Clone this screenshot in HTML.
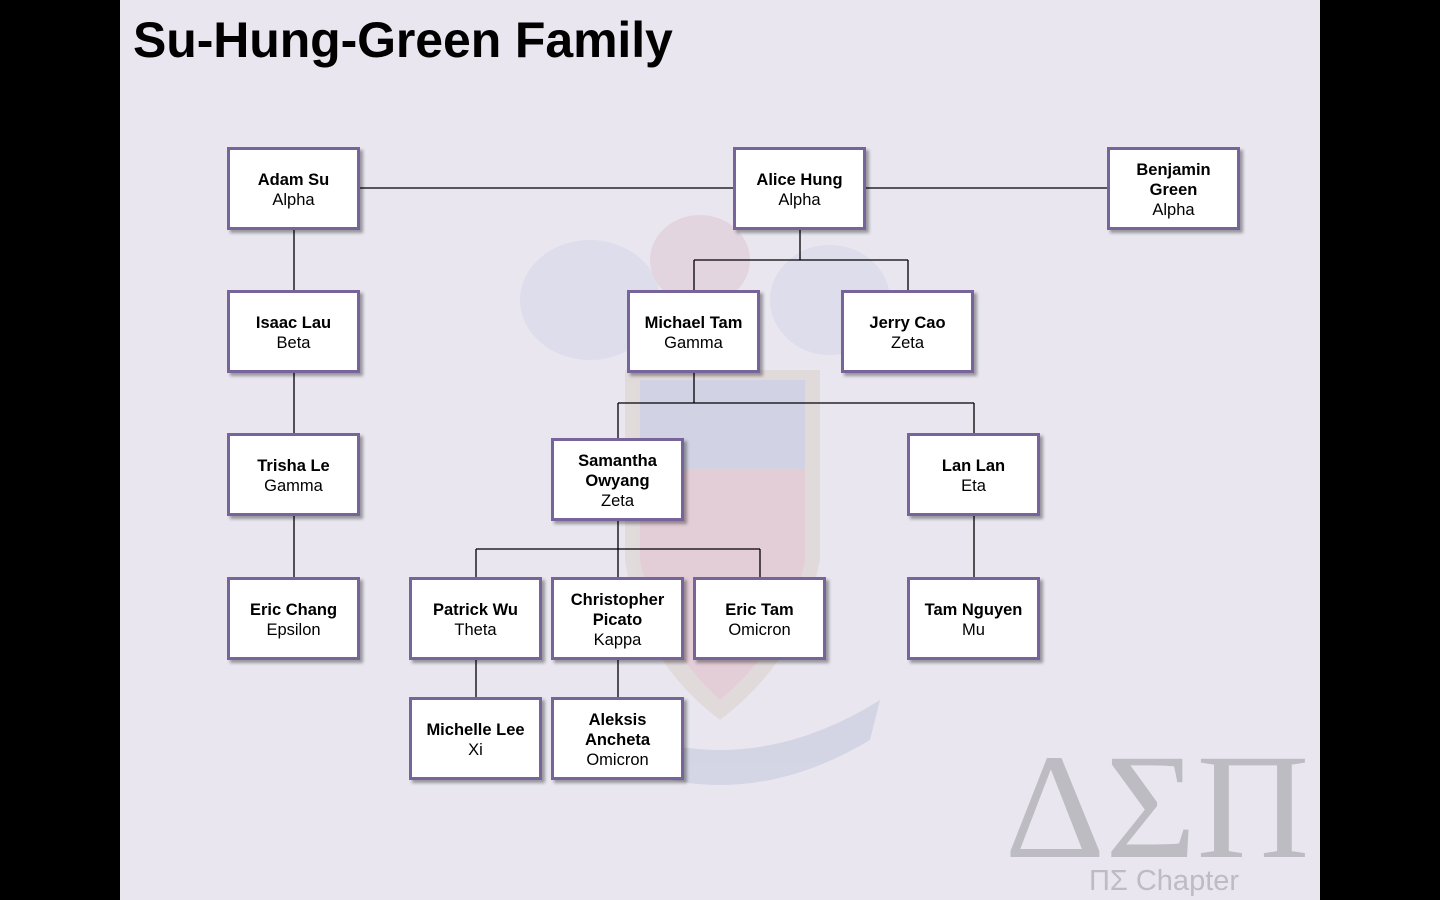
<!DOCTYPE html>
<html><head><meta charset="utf-8"><style>
body{margin:0;width:1440px;height:900px;background:#000;position:relative;overflow:hidden;font-family:"Liberation Sans",Arial,sans-serif}
#s{position:absolute;left:120px;top:0;width:1200px;height:900px;background:#e9e6ef}
h1{position:absolute;left:133px;top:11px;margin:0;font-size:50px;font-weight:bold;color:#000;letter-spacing:-0.1px}
.b{position:absolute;width:127px;height:74px;padding-top:3px;box-sizing:content-box;background:#fff;border:3px solid #76649a;box-shadow:3px 3px 3px rgba(0,0,0,0.35);display:flex;flex-direction:column;justify-content:center;align-items:center;text-align:center;font-size:16.5px;line-height:20px;color:#000}
.b b{font-weight:bold}
svg{position:absolute;left:0;top:0}
</style></head><body>
<div id="s"></div>
<svg width="1440" height="900">
<g opacity="0.12">
<ellipse cx="590" cy="300" rx="70" ry="60" fill="#8aa0d0"/>
<ellipse cx="830" cy="300" rx="60" ry="55" fill="#8aa0d0"/>
<ellipse cx="700" cy="260" rx="50" ry="45" fill="#c06070"/>
<path d="M625 370 L820 370 L820 560 Q800 660 720 720 Q640 660 625 560 Z" fill="#b08a50"/>
<path d="M640 380 L805 380 L805 470 L640 470 Z" fill="#3050a0"/>
<path d="M640 470 L805 470 L805 560 Q790 640 720 700 Q655 640 640 560 Z" fill="#c02030"/>
<path d="M560 700 Q720 800 880 700 L870 740 Q720 830 570 740 Z" fill="#4060a0"/>
</g>
<g stroke="#000" stroke-width="1.3" fill="none">
<path d="M360 188H733M866 188H1107"/>
<path d="M294 230V290M294 373V433M294 516V577"/>
<path d="M800 230V260M694 260H908M694 260V290M908 260V290"/>
<path d="M694 373V403M618 403H974M618 403V438M974 403V433"/>
<path d="M618 521V549M476 549H760M476 549V577M618 549V577M760 549V577"/>
<path d="M476 660V697M618 660V697M974 516V577"/>
</g>
<text x="1157" y="857" font-family="Liberation Serif,serif" font-size="150" fill="#bdbcc2" text-anchor="middle" textLength="305" lengthAdjust="spacingAndGlyphs">ΔΣΠ</text>
<text x="1164" y="890" font-family="Liberation Sans,sans-serif" font-size="29" fill="#bdbcc2" text-anchor="middle">ΠΣ Chapter</text>
</svg>
<h1>Su-Hung-Green Family</h1>
<div class="b" style="left:227px;top:147px"><b>Adam Su</b>Alpha</div>
<div class="b" style="left:733px;top:147px"><b>Alice Hung</b>Alpha</div>
<div class="b" style="left:1107px;top:147px"><b>Benjamin<br>Green</b>Alpha</div>
<div class="b" style="left:227px;top:290px"><b>Isaac Lau</b>Beta</div>
<div class="b" style="left:627px;top:290px"><b>Michael Tam</b>Gamma</div>
<div class="b" style="left:841px;top:290px"><b>Jerry Cao</b>Zeta</div>
<div class="b" style="left:227px;top:433px"><b>Trisha Le</b>Gamma</div>
<div class="b" style="left:551px;top:438px"><b>Samantha<br>Owyang</b>Zeta</div>
<div class="b" style="left:907px;top:433px"><b>Lan Lan</b>Eta</div>
<div class="b" style="left:227px;top:577px"><b>Eric Chang</b>Epsilon</div>
<div class="b" style="left:409px;top:577px"><b>Patrick Wu</b>Theta</div>
<div class="b" style="left:551px;top:577px"><b>Christopher<br>Picato</b>Kappa</div>
<div class="b" style="left:693px;top:577px"><b>Eric Tam</b>Omicron</div>
<div class="b" style="left:907px;top:577px"><b>Tam Nguyen</b>Mu</div>
<div class="b" style="left:409px;top:697px"><b>Michelle Lee</b>Xi</div>
<div class="b" style="left:551px;top:697px"><b>Aleksis<br>Ancheta</b>Omicron</div>
</body></html>
